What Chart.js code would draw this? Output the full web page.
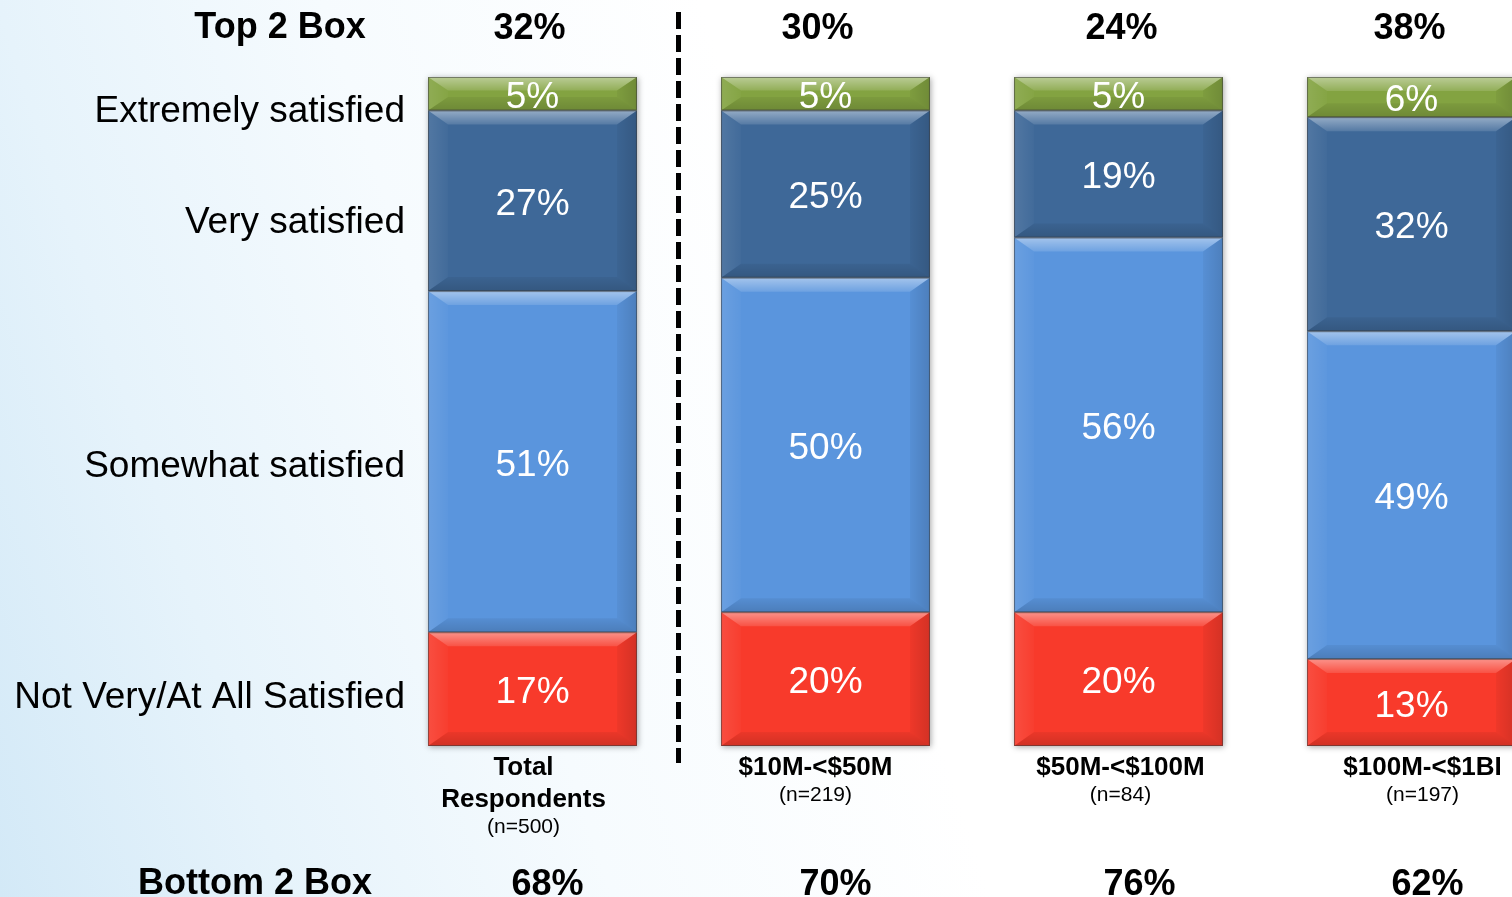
<!DOCTYPE html>
<html>
<head>
<meta charset="utf-8">
<script src="https://cdn.jsdelivr.net/npm/chart.js@4.4.1/dist/chart.umd.min.js"></script>
<style>
  html, body { margin: 0; padding: 0; width: 1512px; height: 897px; overflow: hidden; }
  body {
    background: linear-gradient(72deg, #d3e9f7 0%, #e6f3fb 16%, #f6fbfe 34%, #ffffff 55%, #ffffff 100%);
  }
  #wrap { position: absolute; left: 0; top: 0; width: 1600px; height: 897px; }
</style>
</head>
<body>
<div id="wrap"><canvas id="chart" width="1600" height="897"></canvas></div>
<script>
// Satisfaction by company revenue segment (percent of respondents)
const categories = ['Total Respondents', '$10M-<$50M', '$50M-<$100M', '$100M-<$1BI'];
const categoryLines = [['Total', 'Respondents'], ['$10M-<$50M'], ['$50M-<$100M'], ['$100M-<$1BI']];
const sampleSizes = ['(n=500)', '(n=219)', '(n=84)', '(n=197)'];

const notSatisfied = [17, 20, 20, 13];
const somewhatSatisfied = [51, 50, 56, 49];
const verySatisfied = [27, 25, 19, 32];
const extremelySatisfied = [5, 5, 5, 6];

const top2Box = [32, 30, 24, 38];
const bottom2Box = [68, 70, 76, 62];

const rowLabels = ['Extremely satisfied', 'Very satisfied', 'Somewhat satisfied', 'Not Very/At All Satisfied'];

const FONT = '"Liberation Sans", Arial, Helvetica, sans-serif';

// Beveled faces, value labels and the surrounding annotations
const decorPlugin = {
  id: 'decor',
  beforeDatasetsDraw(chart) {
    const ctx = chart.ctx;
    const meta0 = chart.getDatasetMeta(0);
    const metaTop = chart.getDatasetMeta(chart.data.datasets.length - 1);
    ctx.save();
    meta0.data.forEach((el, i) => {
      const top = metaTop.data[i];
      const p = el.getProps(['x', 'base', 'width'], true);
      const t = top.getProps(['y'], true);
      ctx.shadowColor = 'rgba(0,0,0,0.35)';
      ctx.shadowBlur = 6;
      ctx.shadowOffsetX = 1;
      ctx.shadowOffsetY = 1;
      ctx.fillStyle = '#777';
      ctx.fillRect(p.x - p.width / 2, t.y, p.width, p.base - t.y);
    });
    ctx.restore();
  },
  afterDatasetsDraw(chart) {
    const ctx = chart.ctx;
    const xs = chart.scales.x;

    // bevel overlays on every segment
    chart.data.datasets.forEach((ds, di) => {
      const meta = chart.getDatasetMeta(di);
      meta.data.forEach((el, i) => {
        const p = el.getProps(['x', 'y', 'base', 'width'], true);
        const L = p.x - p.width / 2, R = p.x + p.width / 2;
        const T = Math.min(p.y, p.base), B = Math.max(p.y, p.base);
        const h = B - T;
        const bx = 20, by = Math.min(14, h * 0.4);
        ctx.save();
        // top edge
        let g = ctx.createLinearGradient(0, T, 0, T + by);
        g.addColorStop(0, 'rgba(255,255,255,0.45)');
        g.addColorStop(1, 'rgba(255,255,255,0.12)');
        ctx.fillStyle = g;
        ctx.beginPath();
        ctx.moveTo(L, T); ctx.lineTo(R, T); ctx.lineTo(R - bx, T + by); ctx.lineTo(L + bx, T + by); ctx.closePath();
        ctx.fill();
        // left edge
        g = ctx.createLinearGradient(L, 0, L + bx, 0);
        g.addColorStop(0, 'rgba(255,255,255,0.10)');
        g.addColorStop(1, 'rgba(255,255,255,0.02)');
        ctx.fillStyle = g;
        ctx.beginPath();
        ctx.moveTo(L, T); ctx.lineTo(L + bx, T + by); ctx.lineTo(L + bx, B - by); ctx.lineTo(L, B); ctx.closePath();
        ctx.fill();
        // right edge
        g = ctx.createLinearGradient(R - bx, 0, R, 0);
        g.addColorStop(0, 'rgba(0,0,0,0.04)');
        g.addColorStop(1, 'rgba(0,0,0,0.15)');
        ctx.fillStyle = g;
        ctx.beginPath();
        ctx.moveTo(R, T); ctx.lineTo(R - bx, T + by); ctx.lineTo(R - bx, B - by); ctx.lineTo(R, B); ctx.closePath();
        ctx.fill();
        // bottom edge
        g = ctx.createLinearGradient(0, B - by, 0, B);
        g.addColorStop(0, 'rgba(0,0,0,0.05)');
        g.addColorStop(1, 'rgba(0,0,0,0.16)');
        ctx.fillStyle = g;
        ctx.beginPath();
        ctx.moveTo(L, B); ctx.lineTo(R, B); ctx.lineTo(R - bx, B - by); ctx.lineTo(L + bx, B - by); ctx.closePath();
        ctx.fill();
        // outline
        ctx.strokeStyle = 'rgba(60,60,60,0.55)';
        ctx.lineWidth = 1;
        ctx.strokeRect(L + 0.5, T + 0.5, R - L - 1, h - 1);
        ctx.restore();

        // value label
        const v = ds.data[i];
        ctx.save();
        ctx.fillStyle = '#ffffff';
        ctx.font = '37px ' + FONT;
        ctx.textAlign = 'center';
        ctx.textBaseline = 'alphabetic';
        ctx.fillText(v + '%', p.x, (T + B) / 2 + 14);
        ctx.restore();
      });
    });

    ctx.save();
    ctx.fillStyle = '#000000';

    // row labels at left
    const rowBaselines = [122, 233, 477, 708];
    ctx.font = '37px ' + FONT;
    ctx.textAlign = 'right';
    rowLabels.forEach((s, k) => ctx.fillText(s, 405, rowBaselines[k]));

    // top / bottom box headers
    ctx.font = 'bold 36px ' + FONT;
    ctx.textAlign = 'center';
    ctx.fillText('Top 2 Box', 280, 38);
    ctx.fillText('Bottom 2 Box', 255, 894);

    const topShift = [-3, -8, 3, -2];
    const bottomShift = [15, 10, 21, 16];
    const catShift = [-9, -10, 2, 11];
    categories.forEach((c, i) => {
      const cx = xs.getPixelForValue(i);
      ctx.font = 'bold 36px ' + FONT;
      ctx.fillText(top2Box[i] + '%', cx + topShift[i], 39);
      ctx.fillText(bottom2Box[i] + '%', cx + bottomShift[i], 895);

      ctx.font = 'bold 26px ' + FONT;
      let by = 775;
      categoryLines[i].forEach(line => {
        ctx.fillText(line, cx + catShift[i], by);
        by += 32;
      });
      ctx.font = '21px ' + FONT;
      ctx.fillText(sampleSizes[i], cx + catShift[i], by - 6);
    });

    // dashed divider between total and segments
    const dx = (xs.getPixelForValue(0) + xs.getPixelForValue(1)) / 2 - 0.5;
    ctx.strokeStyle = '#000000';
    ctx.lineWidth = 5;
    ctx.setLineDash([17, 6]);
    ctx.beginPath();
    ctx.moveTo(dx, 12);
    ctx.lineTo(dx, 763);
    ctx.stroke();
    ctx.restore();
  }
};

new Chart(document.getElementById('chart'), {
  type: 'bar',
  data: {
    labels: categories,
    datasets: [
      { label: rowLabels[3], data: notSatisfied, backgroundColor: '#f83a2b' },
      { label: rowLabels[2], data: somewhatSatisfied, backgroundColor: '#5a95dd' },
      { label: rowLabels[1], data: verySatisfied, backgroundColor: '#3e6898' },
      { label: rowLabels[0], data: extremelySatisfied, backgroundColor: '#83a341' }
    ]
  },
  options: {
    responsive: false,
    devicePixelRatio: 1,
    animation: false,
    layout: { padding: { left: 386, right: 42, top: 77, bottom: 151 } },
    datasets: { bar: { categoryPercentage: 1, barPercentage: 0.713, borderWidth: 0 } },
    plugins: { legend: { display: false }, tooltip: { enabled: false } },
    scales: {
      x: { stacked: true, display: false },
      y: { stacked: true, display: false, min: 0, max: 100 }
    }
  },
  plugins: [decorPlugin]
});
</script>
</body>
</html>
